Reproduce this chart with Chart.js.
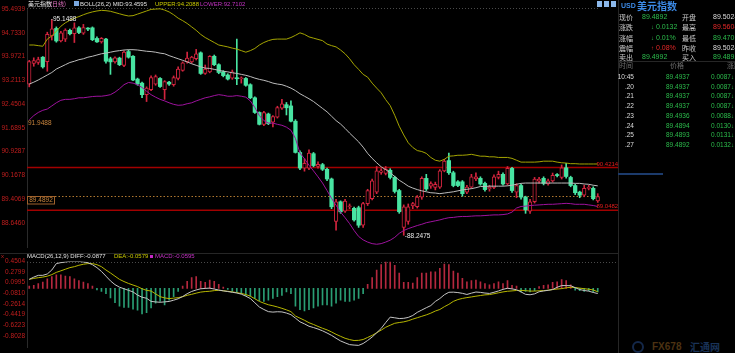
<!DOCTYPE html>
<html>
<head>
<meta charset="utf-8">
<script src="https://cdn.jsdelivr.net/npm/chart.js@4.4.1/dist/chart.umd.min.js"></script>
<style>
html,body{margin:0;padding:0;background:#000;}
body{width:735px;height:353px;overflow:hidden;position:relative;}
canvas{position:absolute;left:0;}
.t{position:absolute;white-space:nowrap;height:10px;line-height:10px;font-family:"Liberation Sans",Arial,sans-serif;font-size:6.5px;}
.c{font-family:"Noto Sans CJK SC",sans-serif;}
.ln{position:absolute;}
</style>
</head>
<body>
<canvas id="mainChart" width="618" height="253" style="top:0"></canvas>
<canvas id="macdChart" width="618" height="100" style="top:253px"></canvas>
<div class="ln" style="left:618px;top:0;width:1px;height:353px;background:#262626"></div>
<div class="ln" style="left:618px;top:61px;width:117px;height:1px;background:#262626"></div>
<div class="ln" style="left:618px;top:173px;width:45px;height:2px;background:#1c3b6c"></div>
<div class="ln" style="left:597px;top:1px;width:5px;height:6px;background:#8cb8ea"></div>
<div class="ln" style="left:604px;top:1px;width:5px;height:6px;background:#8cb8ea"></div>
<div class="ln" style="left:611px;top:1px;width:5px;height:6px;background:#8cb8ea"></div>
<div class="ln" style="left:74px;top:1px;width:5px;height:5px;background:#7aa8e0"></div>
<div class="ln" style="left:150px;top:255px;width:3px;height:3px;background:#c828c8"></div>
<div class="ln" style="left:632px;top:341px;width:12px;height:12px;border:2px solid #14284a;border-radius:50%;box-sizing:border-box"></div>
<script>
// ---------- DATA ----------
const priceTicks = [95.4939, 94.7330, 93.9721, 93.2113, 92.4504, 91.6895, 90.9287, 90.1678, 89.4069, 88.6460];
const macdTicks = [0.4504, 0.2799, 0.0995, -0.0810, -0.2614, -0.4419, -0.6223, -0.8028];

const opens = [93.09,93.75,93.78,93.95,93.81,94.63,94.87,94.47,94.53,94.81,
 94.70,94.89,94.72,94.87,94.89,94.55,94.44,94.53,93.90,93.80,
 93.92,93.69,94.13,93.98,93.25,93.12,92.75,92.91,93.09,93.27,
 92.91,93.15,93.07,93.27,93.53,93.80,93.80,93.90,94.09,93.43,
 93.48,93.98,93.71,93.48,93.38,93.28,93.29,93.26,93.27,93.07,
 92.65,92.18,91.80,92.13,91.87,92.03,92.32,92.43,92.39,91.90,
 90.90,90.40,90.40,90.86,90.45,90.51,90.36,90.05,88.69,89.32,
 89.02,89.16,89.11,89.13,88.57,89.26,89.42,89.63,90.26,90.23,
 90.33,90.10,89.68,88.50,88.69,89.19,89.16,89.47,90.07,89.82,
 89.78,89.79,90.31,90.64,90.25,89.96,89.96,89.63,89.79,90.05,
 90.07,89.91,89.73,89.78,90.10,90.20,89.89,90.39,89.63,89.84,
 89.47,89.02,89.32,89.98,90.07,89.89,89.99,90.19,90.10,90.41,
 90.10,89.84,89.63,89.53,89.75,89.75,89.35];
const highs = [93.85,93.93,93.95,93.97,94.75,95.1488,94.92,94.78,94.86,94.85,
 95.05,94.93,95.00,94.90,94.92,94.60,94.58,94.55,93.95,93.96,
 93.95,94.15,94.18,94.00,93.28,93.15,93.00,93.35,93.38,93.30,
 93.20,93.18,93.35,93.64,93.80,94.11,93.98,94.20,94.12,93.70,
 94.00,94.02,93.74,93.52,93.42,93.54,94.53,93.32,93.30,93.10,
 92.68,92.20,92.22,92.16,92.08,92.38,92.60,92.50,92.55,91.95,
 90.95,90.70,90.98,90.90,90.60,90.55,90.40,90.08,89.40,89.35,
 89.40,89.25,89.15,89.18,89.30,89.72,90.05,90.45,90.38,90.45,
 90.38,90.14,89.72,89.22,89.25,89.30,89.52,90.12,90.20,89.96,
 89.95,90.35,90.68,90.88,90.30,90.00,90.00,89.85,90.20,90.25,
 90.12,89.95,89.85,90.18,90.30,90.25,90.45,90.42,89.90,89.88,
 89.50,89.40,90.10,90.10,90.12,90.05,90.24,90.22,90.50,90.55,
 90.14,89.88,89.66,89.85,89.85,89.80,89.58];
const lows = [93.00,93.66,93.72,93.60,93.50,94.50,94.43,94.44,94.45,94.66,
 94.42,94.70,94.68,94.80,94.48,94.42,94.40,93.76,93.40,93.76,
 93.68,93.65,93.92,93.20,93.05,92.65,92.53,92.88,93.05,92.98,
 92.60,93.05,93.02,93.22,93.50,93.76,93.76,93.86,93.40,93.40,
 93.45,93.68,93.42,93.32,93.22,93.24,93.07,93.12,93.02,92.62,
 92.15,91.78,91.76,91.79,91.72,92.00,92.28,92.10,91.88,90.88,
 90.35,90.30,90.35,90.44,90.40,90.32,90.00,89.10,88.41,88.95,
 88.98,89.10,88.70,88.50,88.50,89.20,89.38,89.58,90.20,90.18,
 90.05,89.60,88.95,88.2475,88.60,89.10,89.12,89.40,89.68,89.75,
 89.70,89.75,90.28,90.20,89.80,89.80,89.50,89.58,89.75,90.00,
 89.85,89.66,89.66,89.74,90.05,89.85,89.85,89.62,89.45,89.40,
 88.95,88.95,89.28,89.92,89.86,89.85,89.95,90.12,90.05,90.08,
 89.80,89.55,89.45,89.48,89.70,89.38,89.30];
const closes = [93.81,93.84,93.87,93.64,94.68,94.86,94.47,94.73,94.82,94.70,
 94.89,94.74,94.90,94.85,94.51,94.44,94.55,93.82,93.80,93.93,
 93.71,94.11,93.95,93.22,93.09,92.75,92.96,93.30,93.33,93.01,
 93.17,93.09,93.30,93.57,93.77,93.92,93.95,94.06,93.43,93.57,
 93.98,93.71,93.46,93.36,93.25,93.48,93.26,93.29,93.05,92.65,
 92.18,91.80,92.18,91.82,92.05,92.34,92.46,92.33,91.90,90.90,
 90.40,90.55,90.88,90.48,90.52,90.36,90.05,89.16,89.32,89.00,
 89.34,89.19,88.74,88.57,89.26,89.68,89.99,90.31,90.31,90.36,
 90.10,89.65,89.00,89.16,89.16,89.26,89.47,90.07,89.73,89.90,
 89.88,90.31,90.62,90.25,89.84,89.84,89.58,89.79,90.12,90.12,
 89.89,89.71,89.78,90.12,90.20,89.89,90.39,89.68,89.84,89.47,
 89.06,89.32,90.05,90.05,89.91,89.99,90.17,90.16,90.41,90.13,
 89.84,89.61,89.53,89.75,89.78,89.42,89.4892];

const bollUpper = [94.34,94.34,94.32,94.30,94.53,94.63,94.78,94.94,95.05,95.13,
 95.20,95.25,95.31,95.36,95.40,95.43,95.45,95.44,95.42,95.38,
 95.34,95.30,95.27,95.28,95.33,95.38,95.43,95.48,95.49,95.50,
 95.46,95.40,95.31,95.20,95.12,95.03,94.92,94.81,94.68,94.58,
 94.50,94.42,94.34,94.31,94.28,94.24,94.21,94.16,94.11,94.16,
 94.23,94.34,94.42,94.48,94.52,94.53,94.53,94.53,94.58,94.65,
 94.73,94.68,94.60,94.56,94.52,94.48,94.37,94.32,94.28,94.18,
 94.06,93.90,93.71,93.56,93.40,93.31,93.12,92.96,92.81,92.59,
 92.40,92.09,91.74,91.46,91.21,91.06,90.96,90.93,90.87,90.74,
 90.65,90.62,90.68,90.78,90.79,90.81,90.81,90.82,90.84,90.81,
 90.78,90.78,90.76,90.76,90.74,90.74,90.74,90.71,90.65,90.59,
 90.59,90.59,90.59,90.60,90.62,90.62,90.62,90.59,90.57,90.56,
 90.54,90.54,90.53,90.53,90.53,90.53,90.53];
const bollMid = [93.09,93.15,93.22,93.30,93.38,93.46,93.57,93.64,93.71,93.78,
 93.82,93.87,93.90,93.95,93.98,94.02,94.06,94.08,94.11,94.14,
 94.16,94.18,94.19,94.19,94.18,94.16,94.14,94.13,94.11,94.08,
 94.06,94.00,93.95,93.90,93.85,93.80,93.74,93.69,93.64,93.60,
 93.59,93.56,93.53,93.50,93.48,93.45,93.43,93.40,93.37,93.33,
 93.28,93.24,93.21,93.17,93.12,93.09,93.07,93.02,92.96,92.88,
 92.78,92.70,92.62,92.53,92.42,92.31,92.20,92.06,91.92,91.81,
 91.67,91.52,91.38,91.24,91.07,90.87,90.71,90.57,90.44,90.35,
 90.25,90.13,90.01,89.92,89.82,89.76,89.71,89.67,89.64,89.61,
 89.60,89.58,89.60,89.62,89.64,89.67,89.70,89.72,89.74,89.77,
 89.81,89.81,89.82,89.82,89.82,89.82,89.83,89.85,89.88,89.91,
 89.92,89.92,89.92,89.92,89.92,89.92,89.92,89.92,89.92,89.92,
 89.92,89.91,89.91,89.89,89.88,89.85,89.83];
const bollLower = [91.94,92.08,92.18,92.25,92.29,92.39,92.49,92.57,92.60,92.60,
 92.62,92.65,92.65,92.67,92.69,92.70,92.70,92.72,92.75,92.83,
 92.94,93.07,93.14,93.12,93.07,92.98,92.86,92.75,92.67,92.60,
 92.55,92.49,92.44,92.41,92.42,92.46,92.49,92.55,92.60,92.65,
 92.68,92.72,92.75,92.73,92.70,92.70,92.72,92.70,92.67,92.55,
 92.34,92.08,91.92,91.84,91.84,91.80,91.77,91.71,91.61,91.35,
 90.88,90.70,90.49,90.31,90.12,89.92,89.68,89.43,89.21,88.99,
 88.81,88.62,88.40,88.21,88.10,88.03,87.98,87.96,87.98,88.03,
 88.09,88.18,88.31,88.40,88.46,88.51,88.56,88.60,88.65,88.68,
 88.71,88.74,88.78,88.81,88.82,88.84,88.85,88.85,88.86,88.87,
 88.87,88.88,88.89,88.90,88.90,88.91,88.93,88.99,89.12,89.17,
 89.18,89.20,89.21,89.22,89.23,89.24,89.24,89.25,89.26,89.27,
 89.26,89.24,89.24,89.24,89.22,89.20,89.17];

const macdDiff = [0.152,0.19,0.22,0.22,0.243,0.31,0.418,0.434,0.445,0.455,
 0.455,0.455,0.445,0.434,0.40,0.35,0.286,0.206,0.126,0.063,
 0.02,-0.007,-0.033,-0.06,-0.113,-0.15,-0.167,
 -0.220,-0.229,-0.235,-0.228,-0.221,-0.200,-0.176,-0.138,-0.090,-0.052,
 -0.027,-0.007,-0.001,0.004,-0.012,-0.028,-0.042,-0.054,-0.066,-0.078,
 -0.098,-0.132,-0.172,-0.243,-0.315,-0.357,-0.393,-0.401,-0.395,-0.398,
 -0.417,-0.444,-0.503,-0.565,-0.600,-0.640,-0.662,-0.687,-0.717,-0.754,
 -0.794,-0.842,-0.888,-0.920,-0.950,-0.958,-0.963,-0.931,-0.880,-0.822,
 -0.751,-0.677,-0.578,-0.486,-0.497,-0.510,-0.506,-0.491,-0.458,-0.405,
 -0.366,-0.327,-0.291,-0.221,-0.172,
 -0.108,-0.066,-0.064,-0.071,-0.084,-0.103,-0.081,-0.062,-0.068,-0.079,
 -0.086,-0.066,-0.044,-0.017,0.002,-0.009,-0.023,-0.060,-0.101,-0.108,
 -0.093,-0.057,-0.044,-0.033,-0.020,0.018,0.047,0.047,0.045,0.012,
 -0.020,-0.036,-0.047,-0.069,-0.0877];
const macdDea = [0.152,0.168,0.18,0.19,0.206,0.232,0.27,0.296,0.323,0.35,
 0.366,0.39,0.407,0.418,0.418,0.40,0.366,0.31,0.26,0.206,
 0.152,0.115,0.083,0.056,0.03,-0.007,-0.033,
 -0.045,-0.093,-0.140,-0.161,-0.173,-0.165,-0.157,-0.141,-0.117,-0.101,
 -0.081,-0.063,-0.054,-0.049,-0.038,-0.033,-0.041,-0.049,-0.060,-0.073,
 -0.086,-0.104,-0.132,-0.176,-0.220,-0.250,-0.277,-0.294,-0.314,-0.337,
 -0.363,-0.393,-0.467,-0.503,-0.539,-0.580,-0.610,-0.643,-0.674,-0.701,
 -0.736,-0.776,-0.810,-0.843,-0.865,-0.881,-0.878,-0.864,-0.829,-0.794,
 -0.749,-0.706,-0.657,-0.623,-0.590,-0.577,-0.566,-0.547,-0.520,-0.496,
 -0.472,-0.448,-0.419,-0.383,-0.357,
 -0.31,-0.27,-0.220,-0.189,-0.170,-0.156,-0.145,-0.132,-0.121,-0.110,
 -0.105,-0.091,-0.075,-0.060,-0.049,-0.043,-0.036,-0.034,-0.039,-0.046,
 -0.046,-0.041,-0.038,-0.031,-0.020,-0.012,-0.004,0.009,0.018,0.014,
 0.004,-0.006,-0.015,-0.027,-0.0579];
const macdHist = [0.037,0.053,0.08,0.106,0.16,0.197,0.229,0.229,0.207,0.197,
 0.16,0.133,0.106,0.08,0.037,-0.027,-0.053,-0.09,-0.16,-0.24,
 -0.30,-0.32,-0.32,-0.35,-0.37,-0.43,-0.41,
 -0.33,-0.25,-0.22,-0.28,-0.20,-0.14,-0.05,0.04,0.12,0.18,
 0.20,0.12,0.10,0.14,0.12,0.07,0.02,-0.02,-0.05,-0.06,
 -0.09,-0.12,-0.13,-0.17,-0.21,-0.22,-0.20,-0.17,-0.14,-0.12,
 -0.06,-0.09,-0.30,-0.36,-0.38,-0.36,-0.33,-0.30,-0.28,-0.28,
 -0.30,-0.25,-0.20,-0.22,-0.22,-0.20,-0.17,-0.09,0.07,0.18,
 0.31,0.40,0.45,0.45,0.39,0.26,0.10,0.10,0.09,0.18,
 0.26,0.26,0.28,0.28,0.34,0.41,0.40,
 0.29,0.26,0.17,0.11,0.13,0.14,0.11,0.08,0.06,0.08,
 0.11,0.08,0.13,0.05,0.04,-0.06,-0.05,-0.06,-0.04,0.03,
 0.05,0.06,0.10,0.11,0.15,0.13,0.06,-0.03,-0.04,-0.05,
 -0.04,-0.06,-0.0595];

const pressureLines = [90.4214, 89.0482];
const lastPrice = 89.4892;
const lowerStartLabel = 91.9488;
const highMark = {index: 5, value: 95.1488};
const lowMark = {index: 83, value: 88.2475};
const labels = Array.from({length: closes.length}, (_, i) => 'D' + (i + 1));

// ---------- STYLE ----------
Chart.defaults.font.family = '"Liberation Sans", Arial, sans-serif';
const UP = '#d2243e', DN = '#48e4a2';
const isUp = closes.map((c, i) => c >= opens[i]);
const FONT = '6.5px "Liberation Sans", Arial, sans-serif';

const mainAnnot = {
  id: 'mainAnnot',
  beforeDatasetsDraw(chart) {
    const {ctx, chartArea: a, scales: {y}} = chart;
    ctx.save();
    ctx.lineWidth = 1;
    ctx.strokeStyle = '#4a4a4a';
    ctx.setLineDash([1, 2]);
    ctx.beginPath(); ctx.moveTo(a.left, a.top + 0.5); ctx.lineTo(a.right, a.top + 0.5); ctx.stroke();
    const yp = Math.round(y.getPixelForValue(lastPrice)) + 0.5;
    ctx.strokeStyle = '#b07830';
    ctx.setLineDash([1.5, 2]);
    ctx.beginPath(); ctx.moveTo(55, yp); ctx.lineTo(a.right, yp); ctx.stroke();
    ctx.setLineDash([]);
    ctx.strokeStyle = '#a20000';
    ctx.lineWidth = 1.5;
    pressureLines.forEach(v => {
      const yy = y.getPixelForValue(v);
      ctx.beginPath(); ctx.moveTo(a.left, yy); ctx.lineTo(chart.width, yy); ctx.stroke();
    });
    ctx.restore();
  },
  afterDatasetsDraw(chart) {
    const {ctx, chartArea: a, scales: {x, y}} = chart;
    ctx.save();
    ctx.font = '6px "Liberation Sans", Arial, sans-serif';
    ctx.textBaseline = 'bottom';
    ctx.fillStyle = '#e41c1c';
    pressureLines.forEach(v => {
      ctx.fillText(v.toFixed(4), 596.5, y.getPixelForValue(v) - 0.5);
    });
    ctx.font = FONT;
    const yp = Math.round(y.getPixelForValue(lastPrice)) + 0.5;
    ctx.fillStyle = '#000';
    ctx.fillRect(27, yp, 28, 7.5);
    ctx.strokeStyle = '#a0622c';
    ctx.lineWidth = 1;
    ctx.strokeRect(27.5, yp, 27, 7.5);
    ctx.fillStyle = '#c8843c';
    ctx.textBaseline = 'middle';
    ctx.textAlign = 'center';
    ctx.fillText(lastPrice.toFixed(4), 41, yp + 4);
    ctx.textAlign = 'left';
    ctx.fillText(lowerStartLabel.toFixed(4), a.left + 1, y.getPixelForValue(bollLower[0]) + 3.5);
    ctx.fillStyle = '#e8e8e8';
    ctx.fillText('-' + highMark.value.toFixed(4), x.getPixelForValue(highMark.index) - 1, y.getPixelForValue(highMark.value) - 0.5);
    ctx.fillText('-' + lowMark.value.toFixed(4), x.getPixelForValue(lowMark.index) + 1, y.getPixelForValue(lowMark.value) + 0.5);
    ctx.restore();
  }
};

const macdAnnot = {
  id: 'macdAnnot',
  beforeDatasetsDraw(chart) {
    const {ctx, chartArea: a} = chart;
    ctx.save();
    ctx.strokeStyle = '#262626';
    ctx.lineWidth = 1;
    ctx.beginPath(); ctx.moveTo(0, 0.5); ctx.lineTo(chart.width, 0.5); ctx.stroke();
    ctx.strokeStyle = '#4a4a4a';
    ctx.setLineDash([1, 2]);
    ctx.beginPath(); ctx.moveTo(a.left, Math.round(a.top) + 0.5); ctx.lineTo(chart.width, Math.round(a.top) + 0.5); ctx.stroke();
    ctx.restore();
  }
};

const yAxisCommon = (ticks) => ({
  afterFit(s) { s.width = 27; },
  afterBuildTicks(s) { s.ticks = ticks.map(v => ({value: v})); },
  ticks: {color: '#c41e1e', font: {size: 6.5}, padding: 2, autoSkip: false, callback: v => Number(v).toFixed(4)},
  grid: {display: false, drawTicks: false},
  border: {display: true, color: '#2a2a2a'}
});

new Chart(document.getElementById('mainChart'), {
  type: 'bar',
  data: {
    labels,
    datasets: [
      {type: 'line', data: bollUpper, borderColor: '#a4a400', borderWidth: 1, pointRadius: 0, tension: 0, order: 0},
      {type: 'line', data: bollMid, borderColor: '#bcbcbc', borderWidth: 1, pointRadius: 0, tension: 0, order: 0},
      {type: 'line', data: bollLower, borderColor: '#9e129e', borderWidth: 1, pointRadius: 0, tension: 0, order: 0},
      {data: opens.map((o, i) => [o, closes[i]]),
       backgroundColor: isUp.map(u => u ? '#000' : DN),
       borderColor: isUp.map(u => u ? UP : DN),
       borderWidth: isUp.map(u => u ? 1 : 0),
       borderSkipped: false, barThickness: 3.6, minBarLength: 1, grouped: false, order: 1},
      {data: lows.map((l, i) => [l, highs[i]]),
       backgroundColor: isUp.map(u => u ? UP : DN),
       barThickness: 1, minBarLength: 1, grouped: false, order: 2}
    ]
  },
  options: {
    responsive: false, animation: false, events: [],
    layout: {padding: {left: 0, right: 18, top: 8, bottom: 0}},
    plugins: {legend: {display: false}, tooltip: {enabled: false}},
    scales: {
      x: {display: false, offset: true, grid: {display: false}},
      y: Object.assign({min: 87.8689, max: 95.5252}, yAxisCommon(priceTicks))
    }
  },
  plugins: [mainAnnot]
});

new Chart(document.getElementById('macdChart'), {
  type: 'bar',
  data: {
    labels,
    datasets: [
      {type: 'line', data: macdDiff, borderColor: '#c4c4c4', borderWidth: 1, pointRadius: 0, tension: 0, order: 0},
      {type: 'line', data: macdDea, borderColor: '#b6b600', borderWidth: 1, pointRadius: 0, tension: 0, order: 0},
      {data: macdHist, backgroundColor: macdHist.map(v => v >= 0 ? '#b4283e' : '#2a9e74'), barThickness: 1, order: 1}
    ]
  },
  options: {
    responsive: false, animation: false, events: [],
    layout: {padding: {left: 0, right: 18, top: 8.5, bottom: 0}},
    plugins: {legend: {display: false}, tooltip: {enabled: false}},
    scales: {
      x: {display: false, offset: true, grid: {display: false}},
      y: Object.assign({min: -0.992, max: 0.4536}, yAxisCommon(macdTicks))
    }
  },
  plugins: [macdAnnot]
});

// ---------- TEXT OVERLAY ----------
function txt(x, yc, s, color, size, cjk, extra) {
  const d = document.createElement('div');
  d.className = 't' + (cjk ? ' c' : '');
  d.style.left = x + 'px';
  d.style.top = (yc - 5) + 'px';
  d.style.color = color;
  if (size) d.style.fontSize = size + 'px';
  if (extra) Object.assign(d.style, extra);
  d.textContent = s;
  document.body.appendChild(d);
  return d;
}
// main title
txt(28, 4, '美元指数', '#e8e8e8', 6, true);
txt(50, 4, '(日线)', '#e070c0', 6, true);
txt(80, 4, 'BOLL(26,2) MID:93.4595', '#e0e0e0', 6);
txt(155, 4, 'UPPER:94.2088', '#c8c800', 6);
txt(200, 4, 'LOWER:92.7102', '#c232c2', 6);
// macd title
txt(1, 256, 'x', '#c02020', 6);
txt(27, 256, 'MACD(26,12,9) DIFF:-0.0877', '#e0e0e0', 6);
txt(114, 256, 'DEA:-0.0579', '#c8c800', 6);
txt(155, 256, 'MACD:-0.0595', '#c832c8', 6);

// right quote panel
const GREEN = '#2cbc4c', RED = '#e42828', LAB = '#c8c8c8', WHITE = '#dcdcdc';
txt(621, 6, 'USD', '#3c8ae6', 7, false, {fontWeight: 'bold'});
txt(637, 6, '美元指数', '#3c8ae6', 10, true, {fontWeight: 'bold'});
const quoteLabelsL = ['现价', '涨跌', '涨幅', '震幅', '卖出'];
const quoteLabelsR = ['开盘', '最高', '最低', '昨收', '买入'];
const quoteRowY = [17, 27, 37.5, 47.5, 57];
const quoteValsR = ['89.5024', '89.5604', '89.4701', '89.5024', '89.4892'];
const quoteColsR = [WHITE, RED, GREEN, WHITE, GREEN];
quoteRowY.forEach((yc, i) => {
  txt(619, yc, quoteLabelsL[i], LAB, 7, true);
  txt(682, yc, quoteLabelsR[i], LAB, 7, true);
  txt(713, yc, quoteValsR[i], quoteColsR[i], 7);
});
txt(642, 17, '89.4892', GREEN, 7);
txt(651, 27, '↓', GREEN, 6); txt(656, 27, '0.0132', GREEN, 7);
txt(651, 37.5, '↓', GREEN, 6); txt(656, 37.5, '0.01%', GREEN, 7);
txt(651, 47.5, '↑', RED, 6); txt(656, 47.5, '0.08%', RED, 7);
txt(642, 57, '89.4992', GREEN, 7);
// time & sales
txt(619, 64.5, '时间', '#6c6c6c', 7, true);
txt(670, 64.5, '价格', '#6c6c6c', 7, true);
txt(727, 64.5, '涨跌', '#6c6c6c', 7, true);
const tradeTimes = ['10:45', '.20', '.21', '.22', '.23', '.24', '.25', '.27'];
const tradePrices = ['89.4937', '89.4937', '89.4937', '89.4937', '89.4936', '89.4894', '89.4893', '89.4892'];
const tradeChanges = ['0.0087', '0.0087', '0.0087', '0.0087', '0.0088', '0.0130', '0.0131', '0.0132'];
tradeTimes.forEach((t, i) => {
  const yc = 77 + i * 9.7;
  txt(600, yc, t, WHITE, 6.5, false, {width: '34px', textAlign: 'right'});
  txt(666, yc, tradePrices[i], GREEN, 6.5);
  txt(711, yc, tradeChanges[i], GREEN, 6.5);
  txt(731, yc, '↓', GREEN, 6);
});
// logo
txt(652, 347, 'FX678', '#4c3212', 10, false, {fontWeight: 'bold'});
txt(690, 347, '汇通网', '#1a3358', 10, true, {fontWeight: 'bold'});
</script>
</body>
</html>
